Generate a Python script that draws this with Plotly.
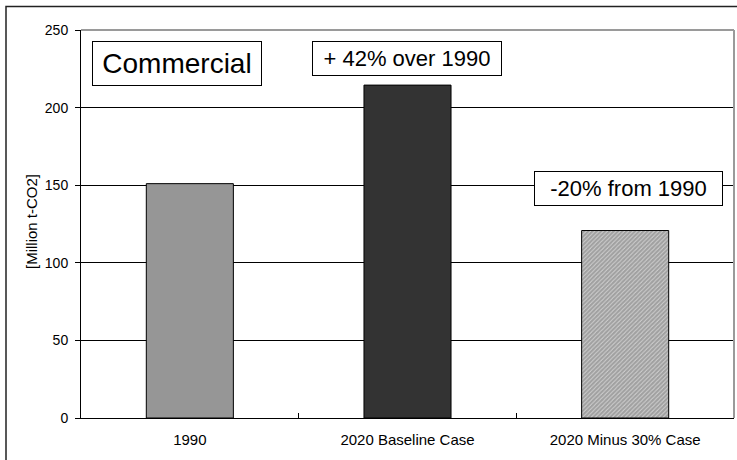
import plotly.graph_objects as go

categories = ["1990", "2020 Baseline Case", "2020 Minus 30% Case"]
values = [151, 214.5, 120.8]
bar_colors = ["#969696", "#333333", "#ffffff"]
y_ticks = [0, 50, 100, 150, 200, 250]
y_title = "[Million t-CO2]"
box_labels = ["Commercial", "+ 42% over 1990", "-20% from 1990"]

W, H = 737, 460
L, R, T, B = 81, 3, 30, 42
pw, ph = W - L - R, H - T - B

def px(x):
    return (x - L) / pw

def py(y):
    return (H - B - y) / ph

FONT = "Liberation Sans, Arial, sans-serif"

fig = go.Figure()
fig.add_trace(go.Bar(
    x=categories, y=values, width=0.4,
    marker=dict(
        color=bar_colors,
        line=dict(color="#000000", width=1),
        pattern=dict(shape=["", "", "/"], fgcolor="#000000", bgcolor="#ffffff",
                     size=3, solidity=0.85, fillmode="overlay"),
    ),
    showlegend=False,
))

fig.update_layout(
    width=W, height=H,
    margin=dict(l=L, r=R, t=T, b=B, pad=0),
    paper_bgcolor="#ffffff", plot_bgcolor="#ffffff",
    font=dict(family=FONT, size=14, color="#000000"),
    bargap=0.6,
)
fig.update_xaxes(
    type="category", showline=True, linecolor="#000000", linewidth=1,
    ticks="inside", ticklen=5, tickcolor="#000000", tickson="boundaries",
    showgrid=False, tickfont=dict(size=15), ticklabelstandoff=8,
)
fig.update_yaxes(
    range=[0, 250], tickvals=y_ticks, showline=True, linecolor="#000000", linewidth=1,
    ticks="outside", ticklen=5, tickcolor="#000000",
    showgrid=True, gridcolor="#000000", gridwidth=1, zeroline=False,
    tickfont=dict(size=14), ticklabelstandoff=4,
)

# gray plot-area border (top and right)
fig.add_shape(type="line", xref="paper", yref="paper", x0=0, x1=1, y0=1, y1=1,
              line=dict(color="#9a9a9a", width=2), layer="above")
fig.add_shape(type="line", xref="paper", yref="paper", x0=1, x1=1, y0=0, y1=1,
              line=dict(color="#9a9a9a", width=2), layer="above")
# outer chart frame
fig.add_shape(type="rect", xref="paper", yref="paper",
              x0=px(6), x1=px(745), y0=py(470), y1=py(6.5),
              line=dict(color="#222222", width=1.5), layer="above")

fig.add_annotation(text=y_title, xref="paper", yref="paper", x=px(31), y=py(222),
                   xanchor="center", yanchor="middle",
                   textangle=-90, showarrow=False, font=dict(size=15))

boxes = [
    (box_labels[0], 177, 63.5, 168, 43, 28),
    (box_labels[1], 407, 58.5, 188, 33, 22),
    (box_labels[2], 628.5, 188.5, 187, 33, 22),
]
for text, cx, cy, w, h, fs in boxes:
    fig.add_annotation(text=text, xref="paper", yref="paper", x=px(cx), y=py(cy),
                       xanchor="center", yanchor="middle", showarrow=False,
                       width=w, height=h, bgcolor="#ffffff", bordercolor="#000000",
                       borderwidth=1, borderpad=0, font=dict(size=fs))

fig.write_html("out.html")
